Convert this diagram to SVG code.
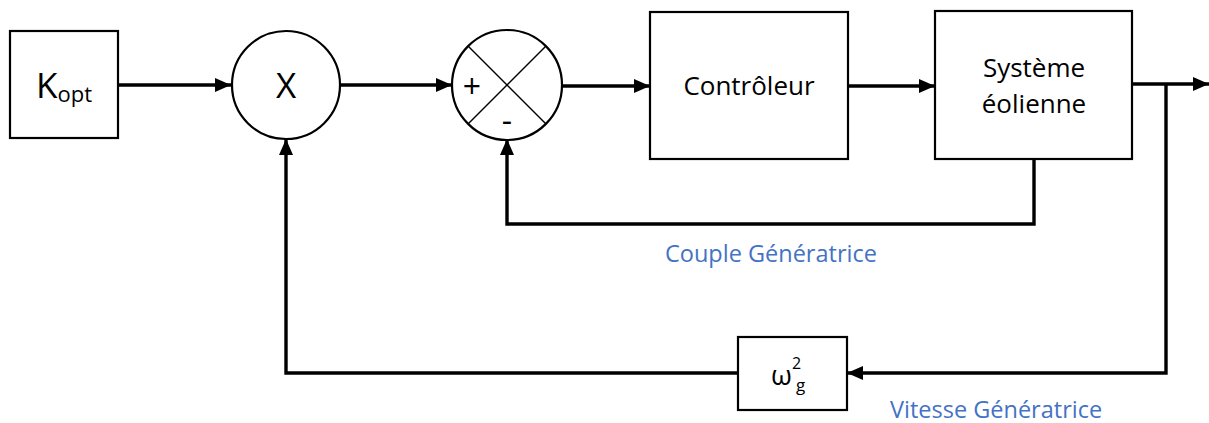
<svg xmlns="http://www.w3.org/2000/svg" width="1209" height="423" viewBox="0 0 1209 423">
  <defs>
    <marker id="arrow" markerUnits="userSpaceOnUse" markerWidth="16" markerHeight="14" refX="16" refY="7" orient="auto">
      <path d="M0,0 L16,7 L0,14 z" fill="#000"/>
    </marker>
    <style>
      .box { fill: #fff; stroke: #000; stroke-width: 2.2; }
      .wire { fill: none; stroke: #000; stroke-width: 3.4; stroke-linejoin: miter; }
      .thin { stroke: #000; stroke-width: 1.5; }
      .lbl { font-family: "Open Sans", "Noto Sans", sans-serif; fill: #000; }
      .blue { font-family: "Open Sans", "Noto Sans", sans-serif; fill: #4472C4; font-size: 23.5px; }
    </style>
  </defs>
  <rect width="1209" height="423" fill="#fff"/>

  <g id="connectors">
    <line class="wire" x1="118" y1="85" x2="231" y2="85" marker-end="url(#arrow)"/>
    <line class="wire" x1="340" y1="85" x2="452" y2="85" marker-end="url(#arrow)"/>
    <line class="wire" x1="562" y1="86" x2="650" y2="86" marker-end="url(#arrow)"/>
    <line class="wire" x1="848" y1="86" x2="935" y2="86" marker-end="url(#arrow)"/>
    <line class="wire" x1="1132" y1="84" x2="1209" y2="84" marker-end="url(#arrow)"/>
    <polyline class="wire" points="1034,159 1034,224 507,224 507,139" marker-end="url(#arrow)"/>
    <polyline class="wire" points="1166,84 1166,373 847,373" marker-end="url(#arrow)"/>
    <polyline class="wire" points="738,373 286,373 286,139" marker-end="url(#arrow)"/>
  </g>

  <g id="kopt">
    <rect class="box" x="10" y="31" width="108" height="107"/>
    <text class="lbl" x="36" y="98" font-size="35">K<tspan font-size="22" dy="4">opt</tspan></text>
  </g>

  <g id="multiplier">
    <circle class="box" cx="286" cy="85" r="54"/>
    <text class="lbl" x="286" y="98" font-size="35" text-anchor="middle">X</text>
  </g>

  <g id="summer">
    <circle class="box" cx="507" cy="85" r="55"/>
    <line class="thin" x1="468" y1="46" x2="546" y2="124"/>
    <line class="thin" x1="546" y1="46" x2="468" y2="124"/>
    <text class="lbl" x="472" y="98" font-size="32" text-anchor="middle">+</text>
    <text class="lbl" x="507" y="132" font-size="32" text-anchor="middle">-</text>
  </g>

  <g id="controleur">
    <rect class="box" x="650" y="12" width="198" height="147"/>
    <text class="lbl" x="749" y="95" font-size="26" text-anchor="middle">Contrôleur</text>
  </g>

  <g id="systeme">
    <rect class="box" x="935" y="11" width="197" height="148"/>
    <text class="lbl" x="1034" y="77" font-size="26" text-anchor="middle">Système</text>
    <text class="lbl" x="1034" y="113" font-size="26" text-anchor="middle">éolienne</text>
  </g>

  <g id="omega">
    <rect class="box" x="738" y="337" width="109" height="73"/>
    <text class="lbl" x="771" y="385" font-size="27">ω<tspan font-size="16" dy="-16">2</tspan><tspan font-size="17" dx="-5" dy="22">g</tspan></text>
  </g>

  <g id="labels">
    <text class="blue" x="665" y="262">Couple Génératrice</text>
    <text class="blue" x="890" y="418">Vitesse Génératrice</text>
  </g>
</svg>
